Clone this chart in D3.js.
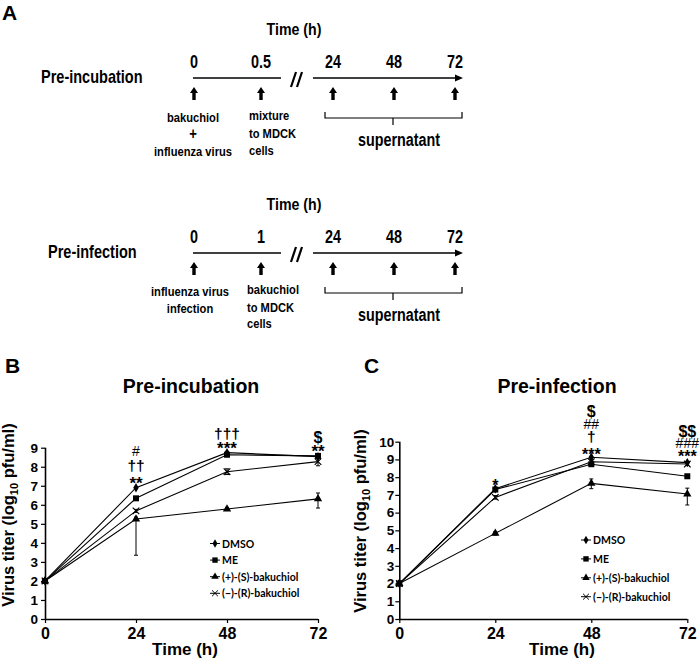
<!DOCTYPE html>
<html><head><meta charset="utf-8">
<script src="https://cdn.jsdelivr.net/npm/d3@7"></script>
<style>body{margin:0;background:#fff}svg{display:block}</style>
</head><body>
<script>
// ---------------- data ----------------
const times = [0, 24, 48, 72];
const seriesNames = ["DMSO", "ME", "(+)-(S)-bakuchiol", "(\u2212)-(R)-bakuchiol"];

// Panel B: Pre-incubation
const bDMSO = [2, 6.9, 8.74, 8.53];
const bME   = [2, 6.34, 8.63, 8.57];
const bS    = [2, 5.25, 5.78, 6.31];
const bR    = [2, 5.68, 7.74, 8.27];
const bSerrLo = [0, 1.9, 0.08, 0.48];
const bSerrHi = [0, 0.1, 0.08, 0.31];
const bRerr   = [0, 0.08, 0.15, 0.22];
const bYTicks = [0, 1, 2, 3, 4, 5, 6, 7, 8, 9];
const bAnnotTime  = [24, 24, 24, 48, 48, 72, 72];
const bAnnotText  = ["**", "\u2020\u2020", "#", "***", "\u2020\u2020\u2020", "**", "$"];
const bAnnotLevel = [7.36, 8.09, 8.83, 9.2, 9.77, 9.04, 9.54];

// Panel C: Pre-infection
const cDMSO = [2, 7.35, 9.12, 8.82];
const cME   = [2, 7.3, 8.73, 8.05];
const cS    = [2, 4.83, 7.65, 7.05];
const cR    = [2, 6.86, 8.87, 8.74];
const cSerrLo = [0, 0.1, 0.3, 0.62];
const cSerrHi = [0, 0.1, 0.25, 0.33];
const cRerr   = [0, 0.1, 0.1, 0.08];
const cYTicks = [0, 1, 2, 3, 4, 5, 6, 7, 8, 9, 10];
const cAnnotTime  = [24, 48, 48, 48, 48, 72, 72, 72];
const cAnnotText  = ["*", "***", "\u2020", "##", "$", "***", "###", "$$"];
const cAnnotLevel = [7.73, 9.53, 10.32, 11.0, 11.73, 9.39, 9.93, 10.6];

const xTicks = [0, 24, 48, 72];

// Panel A schematic time labels
const schemLate = [24, 48, 72];

// ---------------- drawing ----------------
const W = 700, H = 664;
const svg = d3.select("body").append("svg").attr("width", W).attr("height", H);
const FONT = "'Liberation Sans', Arial, Helvetica, sans-serif";
const COND = 0.82;

function ctext(x, y, str, size, anchor, sx) {
  return svg.append("text")
    .attr("transform", `translate(${x},${y}) scale(${sx || COND},1)`)
    .attr("text-anchor", anchor || "middle")
    .style("font-family", FONT).style("font-weight", "bold")
    .style("font-size", size + "px").text(str);
}
function upArrow(x, y) {
  svg.append("path")
    .attr("d", `M${x},${y} L${x + 4},${y + 6} L${x + 1.7},${y + 6} L${x + 1.7},${y + 13} L${x - 1.7},${y + 13} L${x - 1.7},${y + 6} L${x - 4},${y + 6} Z`)
    .attr("fill", "#000");
}

// Panel letters
[["A", 2, 20], ["B", 5, 373], ["C", 364, 373]].forEach(([t, x, y]) => {
  svg.append("text").attr("x", x).attr("y", y).text(t)
    .style("font-family", FONT).style("font-weight", "bold").style("font-size", "21px");
});

// Panel A schematic rows
const rows = [
  { dy: 0, title: "Pre-incubation", titleX: 41, mid: "0.5",
    left: ["bakuchiol", "+", "influenza virus"], leftX: 193, leftY: [122, 139, 156],
    right: ["mixture", "to MDCK", "cells"], rightX: 249, rightY: [120, 138, 155] },
  { dy: 175, title: "Pre-infection", titleX: 48, mid: "1",
    left: ["influenza virus", "infection"], leftX: 190, leftY: [121, 138],
    right: ["bakuchiol", "to MDCK", "cells"], rightX: 247, rightY: [119, 137, 153] }
];
const schemX = d3.scaleLinear().domain([24, 72]).range([333, 455]);
rows.forEach(r => {
  const ly = 78 + r.dy;
  ctext(294, 35 + r.dy, "Time (h)", 16.5, "middle", 0.86);
  ctext(r.titleX, 83 + r.dy, r.title, 17.7, "start");
  svg.append("line").attr("x1", 193).attr("x2", 281).attr("y1", ly).attr("y2", ly)
    .attr("stroke", "#000").attr("stroke-width", 1.6);
  svg.append("line").attr("x1", 313).attr("x2", 456).attr("y1", ly).attr("y2", ly)
    .attr("stroke", "#000").attr("stroke-width", 1.6);
  svg.append("path").attr("d", `M463,${ly} L455,${ly - 3.5} L455,${ly + 3.5} Z`).attr("fill", "#000");
  [291, 297].forEach(x => svg.append("line").attr("x1", x).attr("y1", ly + 9).attr("x2", x + 5).attr("y2", ly - 6)
    .attr("stroke", "#000").attr("stroke-width", 2.2));
  const pts = [[194, "0"], [261, r.mid]].concat(schemLate.map(t => [schemX(t), String(t)]));
  pts.forEach(([x, s]) => { ctext(x, 68 + r.dy, s, 18, "middle", 0.8); upArrow(x, 87 + r.dy); });
  r.left.forEach((s, i) => ctext(r.leftX, r.leftY[i] + r.dy, s, s === "+" ? 16 : 13.6, "middle"));
  r.right.forEach((s, i) => ctext(r.rightX, r.rightY[i] + r.dy, s, 13.6, "start"));
  const by = 112 + r.dy;
  svg.append("path").attr("d", `M325,${by} L325,${by + 6} L462,${by + 6} L462,${by} M393,${by + 6} L393,${by + 13}`)
    .attr("fill", "none").attr("stroke", "#000").attr("stroke-width", 1.2);
  ctext(399, 146 + r.dy, "supernatant", 17.5, "middle");
});

// ---------------- line charts ----------------
const symTypes = [d3.symbolDiamond, d3.symbolSquare, d3.symbolTriangle, d3.symbolX];
const symSizes = [26, 36, 30, 30];

function drawChart(cfg) {
  const x = d3.scaleLinear().domain([0, 72]).range(cfg.xr);
  const y = d3.scaleLinear().domain([0, cfg.yMax]).range(cfg.yr);
  const g = svg.append("g");
  const series = cfg.series;

  const line = d3.line().x((d, i) => x(times[i])).y(d => y(d));
  series.forEach(s => g.append("path").attr("d", line(s)).attr("fill", "none")
    .attr("stroke", "#000").attr("stroke-width", 1.1));

  function errBars(vals, lo, hi) {
    vals.forEach((v, i) => {
      if (lo[i] <= 0 && hi[i] <= 0) return;
      const xx = x(times[i]), y1 = y(v - lo[i]), y2 = y(v + hi[i]);
      g.append("line").attr("x1", xx).attr("x2", xx).attr("y1", y1).attr("y2", y2)
        .attr("stroke", "#000").attr("stroke-width", 1);
      [y1, y2].forEach(yy => g.append("line").attr("x1", xx - 2).attr("x2", xx + 2)
        .attr("y1", yy).attr("y2", yy).attr("stroke", "#000").attr("stroke-width", 1));
    });
  }
  errBars(series[2], cfg.sLo, cfg.sHi);
  errBars(series[3], cfg.rErr, cfg.rErr);

  series.forEach((s, k) => {
    const sym = d3.symbol().type(symTypes[k]).size(symSizes[k]);
    s.forEach((v, i) => {
      const p = g.append("path").attr("d", sym()).attr("transform", `translate(${x(times[i])},${y(v)})`);
      if (k === 3) p.attr("fill", "none").attr("stroke", "#000").attr("stroke-width", 1.2);
      else p.attr("fill", "#000");
    });
  });

  const yAxis = d3.axisLeft(y).tickValues(cfg.yTicks).tickSize(4).tickPadding(cfg.yPad).tickFormat(d3.format("d"));
  const ya = g.append("g").attr("transform", `translate(${cfg.xr[0]},0)`).call(yAxis);
  const xAxis = d3.axisBottom(x).tickValues(xTicks).tickSize(4).tickPadding(4).tickFormat(d3.format("d"));
  const xa = g.append("g").attr("transform", `translate(0,${cfg.yr[0]})`).call(xAxis);
  [ya, xa].forEach(a => {
    a.select(".domain").attr("stroke-width", 1.6);
    a.selectAll(".tick line").attr("stroke-width", 1.2);
    a.selectAll("text").style("font-family", FONT).style("font-weight", "bold").attr("fill", "#000");
  });
  ya.select(".domain").attr("d", `M0.5,${cfg.yr[1]}V${cfg.yr[0]}`);
  xa.select(".domain").attr("d", `M${cfg.xr[0]},0.5H${cfg.xr[1]}`);
  ya.selectAll("text").style("font-size", "13.5px");
  xa.selectAll("text").style("font-size", "16px").attr("dy", "0.72em");

  const yl = g.append("text").attr("transform", `translate(${cfg.ylX},${cfg.ylY}) rotate(-90)`)
    .attr("text-anchor", "middle").style("font-family", FONT).style("font-weight", "bold").style("font-size", "16.5px");
  yl.append("tspan").text("Virus titer (log");
  yl.append("tspan").text("10").style("font-size", "11px").attr("dy", 4);
  yl.append("tspan").text(" pfu/ml)").attr("dy", -4);
  g.append("text").attr("x", cfg.xlX).attr("y", 655).attr("text-anchor", "middle")
    .style("font-family", FONT).style("font-weight", "bold").style("font-size", "17px").text("Time (h)");
  g.append("text").attr("x", cfg.titleX).attr("y", 393).attr("text-anchor", "middle")
    .style("font-family", FONT).style("font-weight", "bold").style("font-size", "19.5px").text(cfg.title);

  cfg.aText.forEach((t, i) => {
    const isAst = t[0] === "*";
    const isDag = t[0] === "\u2020";
    const isHash = t[0] === "#";
    const size = isAst ? cfg.astSize : isDag ? 15.5 : isHash ? 14 : 16;
    g.append("text").attr("x", x(cfg.aTime[i])).attr("y", y(cfg.aLevel[i]))
      .attr("text-anchor", "middle").attr("dominant-baseline", "central")
      .attr("dy", isAst ? "0.25em" : "0")
      .style("font-family", FONT).style("font-weight", isHash ? "normal" : "bold")
      .style("font-size", size + "px").text(t);
  });

  seriesNames.forEach((name, k) => {
    const ly = cfg.legY + k * cfg.legStep;
    const lx = cfg.legX;
    g.append("line").attr("x1", lx).attr("x2", lx + 10).attr("y1", ly).attr("y2", ly)
      .attr("stroke", "#000").attr("stroke-width", 1);
    const sym = d3.symbol().type(symTypes[k]).size(symSizes[k] * 0.8);
    const p = g.append("path").attr("d", sym()).attr("transform", `translate(${lx + 5},${ly})`);
    if (k === 3) p.attr("fill", "none").attr("stroke", "#000").attr("stroke-width", 1);
    else p.attr("fill", "#000");
    g.append("text").attr("x", lx + 12).attr("y", ly).attr("dominant-baseline", "central")
      .style("font-family", "Lato, 'Open Sans', sans-serif").style("font-weight", "bold")
      .style("font-size", "10.5px").text(name);
  });
}

drawChart({
  series: [bDMSO, bME, bS, bR], sLo: bSerrLo, sHi: bSerrHi, rErr: bRerr,
  xr: [45, 318], yr: [619, 447.7], yMax: 9, yTicks: bYTicks, yPad: 3,
  ylX: 14, ylY: 515, xlX: 185, titleX: 191, title: "Pre-incubation",
  aTime: bAnnotTime, aText: bAnnotText, aLevel: bAnnotLevel, astSize: 17,
  legX: 210, legY: 543.5, legStep: 16.6
});
drawChart({
  series: [cDMSO, cME, cS, cR], sLo: cSerrLo, sHi: cSerrHi, rErr: cRerr,
  xr: [399.3, 687.3], yr: [619, 441.7], yMax: 10, yTicks: cYTicks, yPad: 1,
  ylX: 366, ylY: 521, xlX: 562, titleX: 557, title: "Pre-infection",
  aTime: cAnnotTime, aText: cAnnotText, aLevel: cAnnotLevel, astSize: 16,
  legX: 581, legY: 540, legStep: 18.9
});
</script>
</body></html>
